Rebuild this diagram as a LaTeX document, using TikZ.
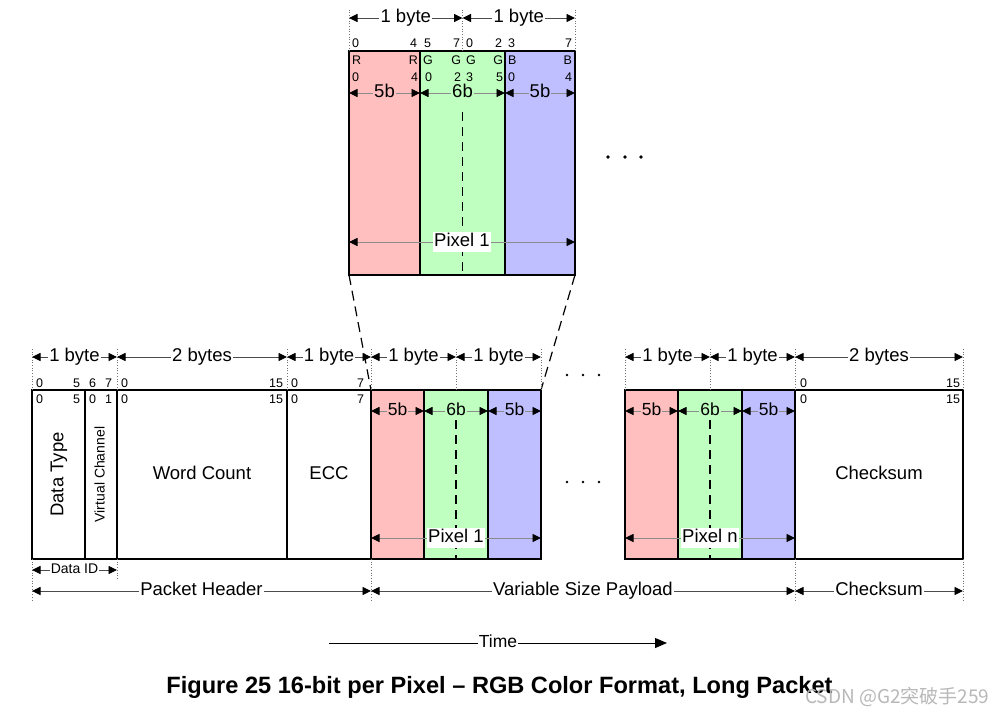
\documentclass[tikz,border=0pt]{standalone}
\usepackage{fontspec}
\setmainfont{Liberation Sans}
\newfontfamily\cjkfont{Noto Sans CJK SC}
\usetikzlibrary{arrows.meta}
\definecolor{pr}{HTML}{FFBFBF}
\definecolor{pg}{HTML}{BFFFBF}
\definecolor{pb}{HTML}{BFBFFF}
\newcommand\bitl[3]{\node[bit,anchor=base west] (#1) at (#2) {#3};}
\newcommand\bitr[3]{\node[bit,anchor=base east] (#1) at (#2) {#3};}
\begin{document}
\begin{tikzpicture}[x=1pt,y=-1pt,
  fld/.style={draw=black, line width=2.4pt, inner sep=0pt, outer sep=0pt, anchor=north west},
  dim/.style={{Triangle[length=8.5pt,width=8pt,color=black]}-{Triangle[length=8.5pt,width=8pt,color=black]}, draw=black!70, line width=0.9pt},
  dimg/.style={dim, draw=black!45},
  lbl/.style={fill=white, inner sep=1.2pt, text=black},
  guide/.style={draw=black!55, dotted, line width=0.7pt},
  inner/.style={draw=black, dash pattern=on 9pt off 6pt, line width=1.4pt},
  proj/.style={draw=black, dash pattern=on 10pt off 6pt, line width=1.2pt},
  f18/.style={font=\fontsize{18.5}{20}\selectfont, text height=13.4pt, text depth=3.8pt},
  f17/.style={font=\fontsize{17.5}{19}\selectfont, text height=12.7pt, text depth=3.6pt},
  f14/.style={font=\fontsize{14}{16}\selectfont, text height=10.2pt, text depth=2.9pt},
  f13/.style={font=\fontsize{14}{15}\selectfont, text height=10.2pt, text depth=2.9pt},
  bit/.style={font=\fontsize{12.5}{13}\selectfont, inner sep=0pt, outer sep=0pt}]
\fill[white] (0,0) rectangle (993,714);
\useasboundingbox (0,0) rectangle (993,714);

% ---------- row coordinates
\coordinate (rowT) at (0,18);
\coordinate (gTt) at (0,8);
\coordinate (row5T) at (0,93);
\coordinate (rowPT) at (0,242);
\coordinate (dashT) at (0,112);
\coordinate (rowB) at (0,357);
\coordinate (gBt) at (0,347);
\coordinate (row5B) at (0,411);
\coordinate (dashB) at (0,420);
\coordinate (rowPB) at (0,538);
\coordinate (rowID) at (0,570);
\coordinate (gID) at (0,580);
\coordinate (rowPH) at (0,591);
\coordinate (gPH) at (0,601);

% ---------- top enlarged pixel
\node[fld, fill=pr, minimum width=71pt, minimum height=224pt] (tr) at (349,51) {};
\node[fld, fill=pg, minimum width=85pt, minimum height=224pt] (tg) at (420,51) {};
\node[fld, fill=pb, minimum width=70pt, minimum height=224pt] (tb) at (505,51) {};
\draw[inner] (tg.north |- dashT) -- (tg.south);

\draw[guide] (tr.north west) -- (tr.north west |- gTt);
\draw[guide] (tg.north) -- (tg.north |- gTt);
\draw[guide] (tb.north east) -- (tb.north east |- gTt);
\draw[dim] (tr.north west |- rowT) -- node[lbl, f18] (tb1) {1 byte} (tg.north |- rowT);
\draw[dim] (tg.north |- rowT) -- node[lbl, f18] (tb2) {1 byte} (tb.north east |- rowT);

\bitl{ta1}{352,48}{0}\bitr{ta2}{417,48}{4}\bitl{ta3}{424,48}{5}\bitr{ta4}{460,48}{7}
\bitl{ta5}{466,48}{0}\bitr{ta6}{502,48}{2}\bitl{ta7}{508,48}{3}\bitr{ta8}{572,48}{7}
\bitl{tbb1}{352,65}{R}\bitr{tbb2}{418,65}{R}\bitl{tbb3}{423,65}{G}\bitr{tbb4}{461,65}{G}
\bitl{tbb5}{466,65}{G}\bitr{tbb6}{503,65}{G}\bitl{tbb7}{508,65}{B}\bitr{tbb8}{572,65}{B}
\bitl{tc1}{352,82}{0}\bitr{tc2}{418,82}{4}\bitl{tc3}{425,82}{0}\bitr{tc4}{461,82}{2}
\bitl{tc5}{466,82}{3}\bitr{tc6}{503,82}{5}\bitl{tc7}{508,82}{0}\bitr{tc8}{572,82}{4}

\draw[dimg] (tr.north west |- row5T) -- node[lbl, f18, fill=pr] (t5a) {5b} (tr.north east |- row5T);
\draw[dimg] (tg.north west |- row5T) -- node[lbl, f18, fill=pg] (t6) {6b} (tg.north east |- row5T);
\draw[dimg] (tb.north west |- row5T) -- node[lbl, f18, fill=pb] (t5b) {5b} (tb.north east |- row5T);
\draw[dimg] (tr.north west |- rowPT) -- node[lbl, f18] (tp1) {Pixel 1} (tb.north east |- rowPT);

\fill (608,157) circle (1.8pt) (625,157) circle (1.8pt) (641,157) circle (1.8pt);

% ---------- packet
\node[fld, minimum width=53pt, minimum height=169pt] (dt) at (32,390) {};
\node[fld, minimum width=32pt, minimum height=169pt] (vc) at (85,390) {};
\node[fld, minimum width=170pt, minimum height=169pt] (wc) at (117,390) {};
\node[fld, minimum width=84pt, minimum height=169pt] (ecc) at (287,390) {};
\node[fld, fill=pr, minimum width=53pt, minimum height=169pt] (r1) at (371,390) {};
\node[fld, fill=pg, minimum width=64pt, minimum height=169pt] (g1) at (424,390) {};
\node[fld, fill=pb, minimum width=53pt, minimum height=169pt] (b1) at (488,390) {};
\node[fld, fill=pr, minimum width=53pt, minimum height=169pt] (rn) at (625,390) {};
\node[fld, fill=pg, minimum width=64pt, minimum height=169pt] (gn) at (678,390) {};
\node[fld, fill=pb, minimum width=53pt, minimum height=169pt] (bn) at (742,390) {};
\node[fld, minimum width=168pt, minimum height=169pt] (cs) at (795,390) {};

\draw[inner] (g1.north |- dashB) -- (g1.south);
\draw[inner] (gn.north |- dashB) -- (gn.south);

\node[f18, rotate=90] (dtt) at (dt.center) {Data Type};
\node[f14, rotate=90] (vct) at (vc.center) {Virtual Channel};
\node[f18] (wct) at (wc.center) {Word Count};
\node[f18] (ecct) at (ecc.center) {ECC};
\node[f18] (cst) at (cs.center) {Checksum};

% projection lines
\draw[proj] (tr.south west) -- (r1.north west);
\draw[proj] (tb.south east) -- (b1.north east);

% byte guides and arrows
\foreach \a in {dt.north west, vc.north east, wc.north east, ecc.north east, g1.north, b1.north east, rn.north west, gn.north, bn.north east, cs.north east}
  \draw[guide] (\a) -- (\a |- gBt);
\draw[dim] (dt.north west |- rowB) -- node[lbl, f18] (ba1) {1 byte} (vc.north east |- rowB);
\draw[dim] (wc.north west |- rowB) -- node[lbl, f18] (ba2) {2 bytes} (wc.north east |- rowB);
\draw[dim] (ecc.north west |- rowB) -- node[lbl, f18] (ba3) {1 byte} (ecc.north east |- rowB);
\draw[dim] (r1.north west |- rowB) -- node[lbl, f18] (ba4) {1 byte} (g1.north |- rowB);
\draw[dim] (g1.north |- rowB) -- node[lbl, f18] (ba5) {1 byte} (b1.north east |- rowB);
\draw[dim] (rn.north west |- rowB) -- node[lbl, f18] (ba6) {1 byte} (gn.north |- rowB);
\draw[dim] (gn.north |- rowB) -- node[lbl, f18] (ba7) {1 byte} (bn.north east |- rowB);
\draw[dim] (cs.north west |- rowB) -- node[lbl, f18] (ba8) {2 bytes} (cs.north east |- rowB);

% bit numbers
\bitl{pa1}{36,387.5}{0}\bitr{pa2}{80,387.5}{5}\bitl{pa3}{89,387.5}{6}\bitr{pa4}{112,387.5}{7}
\bitl{pa5}{121,387.5}{0}\bitr{pa6}{283,387.5}{15}\bitl{pa7}{291,387.5}{0}\bitr{pa8}{364,387.5}{7}
\bitl{pa9}{800,387.5}{0}\bitr{pa10}{960,387.5}{15}
\bitl{pb1}{36,403}{0}\bitr{pb2}{80,403}{5}\bitl{pb3}{89,403}{0}\bitr{pb4}{112,403}{1}
\bitl{pb5}{121,403}{0}\bitr{pb6}{283,403}{15}\bitl{pb7}{291,403}{0}\bitr{pb8}{364,403}{7}
\bitl{pb9}{800,403}{0}\bitr{pb10}{960,403}{15}

% 5b / 6b arrows
\draw[dimg] (r1.north west |- row5B) -- node[lbl, f17, fill=pr] (s1) {5b} (r1.north east |- row5B);
\draw[dimg] (g1.north west |- row5B) -- node[lbl, f17, fill=pg] (s2) {6b} (g1.north east |- row5B);
\draw[dimg] (b1.north west |- row5B) -- node[lbl, f17, fill=pb] (s3) {5b} (b1.north east |- row5B);
\draw[dimg] (rn.north west |- row5B) -- node[lbl, f17, fill=pr] (s4) {5b} (rn.north east |- row5B);
\draw[dimg] (gn.north west |- row5B) -- node[lbl, f17, fill=pg] (s5) {6b} (gn.north east |- row5B);
\draw[dimg] (bn.north west |- row5B) -- node[lbl, f17, fill=pb] (s6) {5b} (bn.north east |- row5B);

\draw[dimg] (r1.north west |- rowPB) -- node[lbl, f18] (px1) {Pixel 1} (b1.north east |- rowPB);
\draw[dimg] (rn.north west |- rowPB) -- node[lbl, f18] (pxn) {Pixel n} (bn.north east |- rowPB);

% dots
\fill (567,375) circle (1.4pt) (583,375) circle (1.4pt) (599,375) circle (1.4pt);
\fill (567,482) circle (1.4pt) (583,482) circle (1.4pt) (599,482) circle (1.4pt);

% lower guides and arrows
\draw[guide] (vc.south east) -- (vc.south east |- gID);
\foreach \a in {dt.south west, ecc.south east, bn.south east, cs.south east}
  \draw[guide] (\a) -- (\a |- gPH);
\draw[dim] (dt.south west |- rowID) -- node[lbl, f13] (did) {Data ID} (vc.south east |- rowID);
\draw[dim] (dt.south west |- rowPH) -- node[lbl, f18] (ph) {Packet Header} (ecc.south east |- rowPH);
\draw[dim] (r1.south west |- rowPH) -- node[lbl, f18] (vsp) {Variable Size Payload} (bn.south east |- rowPH);
\draw[dim] (cs.south west |- rowPH) -- node[lbl, f18] (csl) {Checksum} (cs.south east |- rowPH);

% time arrow
\coordinate (t0) at (329,643);
\coordinate (t1) at (667,643);
\draw[-{Triangle[length=12pt,width=10pt]}, line width=1pt] (t0) -- node[lbl, f17] (tm) {Time} (t1);

% caption
\node[font=\bfseries\fontsize{23.6}{25}\selectfont, anchor=base, inner sep=0pt] (cap) at (499.5,693) {Figure 25 16-bit per Pixel – RGB Color Format, Long Packet};
\node[font=\cjkfont\fontsize{19}{19}\selectfont, text=black!28, anchor=base west, inner sep=0pt] (wm) at (805,703) {CSDN @G2突破手259};
\end{tikzpicture}
\end{document}
